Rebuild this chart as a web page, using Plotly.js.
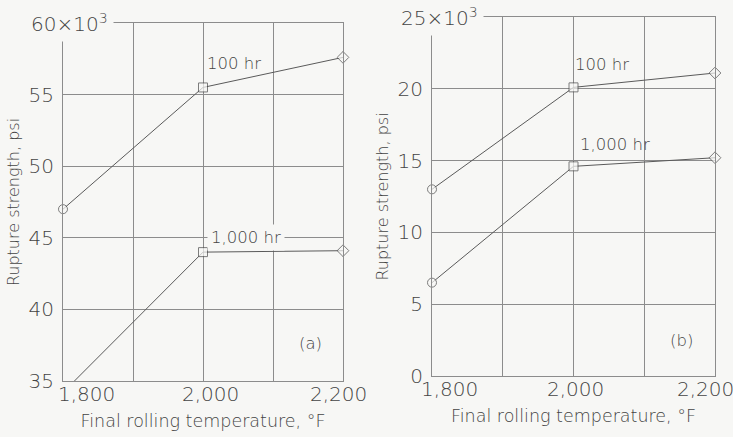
<!DOCTYPE html>
<html>
<head>
<meta charset="utf-8">
<script src="https://cdn.plot.ly/plotly-3.0.1.min.js"></script>
<style>html,body{margin:0;padding:0;background:#f7f7f5;}#chart{width:733px;height:437px;}</style>
</head>
<body>
<div id="chart"></div>
<script>
// ---- data (rupture strength in 10^3 psi) ----
const temps = [1800, 2000, 2200];
const a100hr = [47.0, 55.5, 57.6];
const a1000hr = [34.2, 44.0, 44.1];
const b100hr = [13.0, 20.1, 21.1];
const b1000hr = [6.5, 14.6, 15.2];
const pointSymbols = ['circle', 'square', 'diamond'];

const gridX = [1800, 1900, 2000, 2100, 2200];
const xTickVals = [1800, 2000, 2200];
const xTickText = ['1,800', '2,000', '2,200'];
const yTickValsA = [35, 40, 45, 50, 55, 60];
const yTickTextA = ['35', '40', '45', '50', '55', ''];
const yTickValsB = [0, 5, 10, 15, 20, 25];
const yTickTextB = ['0', '5', '10', '15', '20', ''];
const topLabelA = '60×10<sup>3</sup>';
const topLabelB = '25×10<sup>3</sup>';
const seriesLabels = ['100 hr', '1,000 hr'];
const panelLabels = ['(a)', '(b)'];

const BG = '#f7f7f5';
const INK = '#444444';
const GRID = '#8c8c8c';
const FONT = '"DejaVu Sans", sans-serif';

const rangeA = [35, 60];
const rangeB = [0, 25];

function series(x, y, xa, ya, range) {
  // hide markers whose value lies outside the visible axis range
  const sizes = y.map(function (v) { return (v < range[0] || v > range[1]) ? 0 : 9; });
  return {
    x: x, y: y, xaxis: xa, yaxis: ya, type: 'scatter', mode: 'lines+markers',
    line: {color: '#5a5a5a', width: 1},
    marker: {symbol: pointSymbols, size: sizes, color: BG, line: {color: '#4a4a4a', width: 1}},
    hoverinfo: 'skip', showlegend: false, cliponaxis: false
  };
}

const data = [
  series(temps, a100hr, 'x', 'y', rangeA),
  series(temps, a1000hr, 'x', 'y', rangeA),
  series(temps, b100hr, 'x2', 'y2', rangeB),
  series(temps, b1000hr, 'x2', 'y2', rangeB)
];

function xAxis(domain, anchor) {
  return {
    domain: domain, anchor: anchor, range: [1800, 2200], tickmode: 'array', tickvals: gridX,
    showticklabels: false, showgrid: true, gridcolor: GRID, gridwidth: 1, zeroline: false,
    showline: true, mirror: true, linecolor: GRID, linewidth: 1, ticks: '',
    title: {text: 'Final rolling temperature, °F', font: {family: FONT, size: 17.5, color: INK, weight: 200}, standoff: 33}
  };
}
function yAxis(domain, anchor, range, vals, text) {
  return {
    domain: domain, anchor: anchor, range: range, tickmode: 'array', tickvals: vals, ticktext: text,
    showgrid: true, gridcolor: GRID, gridwidth: 1, zeroline: false,
    showline: true, mirror: true, linecolor: GRID, linewidth: 1, ticks: '',
    ticklabelstandoff: 4,
    tickfont: {family: FONT, size: 20, color: INK, weight: 200},
    title: {text: 'Rupture strength, psi', font: {family: FONT, size: 16, color: INK, weight: 200}, standoff: 4}
  };
}

const annFont = {family: FONT, size: 16.5, color: INK, weight: 200};
const tickFont = {family: FONT, size: 20, color: INK, weight: 200};
const annotations = [];
// x tick labels
const xShiftA = [23, 7, -5];
const xShiftB = [18, 2, -10];
[['x', 'y', rangeA[0], xShiftA], ['x2', 'y2', rangeB[0], xShiftB]].forEach(function (p) {
  xTickVals.forEach(function (v, i) {
    annotations.push({xref: p[0], yref: p[1], x: v, y: p[2], text: xTickText[i], showarrow: false,
      xanchor: 'center', yanchor: 'middle', xshift: p[3][i], yshift: -13, font: tickFont});
  });
});
// top tick labels with multiplier
annotations.push({xref: 'x', yref: 'y', x: 1800, y: rangeA[1], text: topLabelA, showarrow: false, xanchor: 'left', yanchor: 'middle',
  xshift: -38, yshift: 0, font: tickFont, bgcolor: BG, borderpad: 5});
annotations.push({xref: 'x2', yref: 'y2', x: 1800, y: rangeB[1], text: topLabelB, showarrow: false, xanchor: 'left', yanchor: 'middle',
  xshift: -37, yshift: 0, font: tickFont, bgcolor: BG, borderpad: 5});
// series labels
annotations.push({xref: 'x', yref: 'y', x: 2003, y: 57.2, text: seriesLabels[0], showarrow: false, xanchor: 'left', yanchor: 'middle', font: annFont});
annotations.push({xref: 'x', yref: 'y', x: 2006, y: 45.05, text: seriesLabels[1], showarrow: false, xanchor: 'left', yanchor: 'middle', font: annFont, bgcolor: BG, borderpad: 3});
annotations.push({xref: 'x2', yref: 'y2', x: 1999, y: 21.7, text: seriesLabels[0], showarrow: false, xanchor: 'left', yanchor: 'middle', font: annFont});
annotations.push({xref: 'x2', yref: 'y2', x: 2006, y: 16.1, text: seriesLabels[1], showarrow: false, xanchor: 'left', yanchor: 'middle', font: annFont});
// panel labels
annotations.push({xref: 'x', yref: 'y', x: 2153, y: 37.65, text: panelLabels[0], showarrow: false, font: annFont});
annotations.push({xref: 'x2', yref: 'y2', x: 2153, y: 2.5, text: panelLabels[1], showarrow: false, font: annFont});

const layout = {
  width: 733, height: 437,
  margin: {l: 0, r: 0, t: 0, b: 0},
  paper_bgcolor: BG, plot_bgcolor: BG,
  showlegend: false,
  xaxis: xAxis([63 / 733, 343 / 733], 'y'),
  yaxis: yAxis([1 - 381 / 437, 1 - 23 / 437], 'x', rangeA, yTickValsA, yTickTextA),
  xaxis2: xAxis([432 / 733, 715 / 733], 'y2'),
  yaxis2: yAxis([1 - 376 / 437, 1 - 17 / 437], 'x2', rangeB, yTickValsB, yTickTextB),
  annotations: annotations
};

Plotly.newPlot('chart', data, layout, {staticPlot: true, displayModeBar: false});
</script>
</body>
</html>
